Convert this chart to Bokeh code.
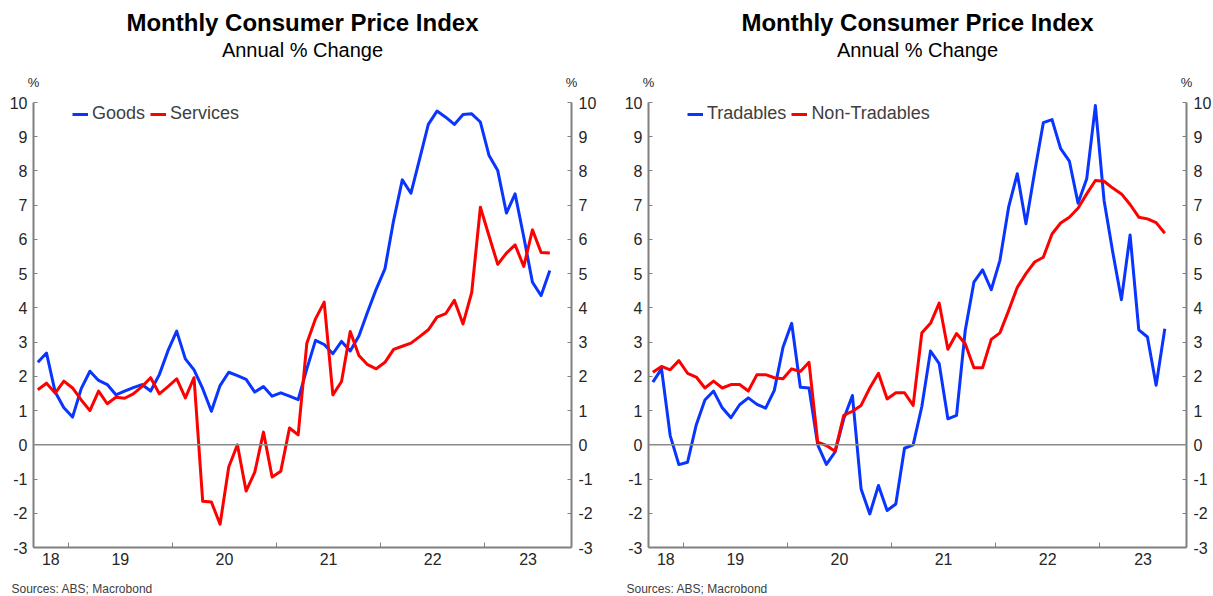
import pandas as pd
from bokeh.plotting import figure
from bokeh.models import LinearAxis, FixedTicker, Span, Title, Legend, LegendItem, Range1d
from bokeh.layouts import row
from bokeh.embed import file_html
from bokeh.resources import INLINE

# ---------------- data ----------------
months = [p.strftime("%Y-%m") for p in pd.period_range("2018-09", "2023-08", freq="M")]

goods = [2.41, 2.68, 1.54, 1.08, 0.81, 1.64, 2.15, 1.88, 1.76, 1.46,
         1.57, 1.67, 1.76, 1.57, 2.05, 2.75, 3.32, 2.51, 2.19, 1.64,
         0.98, 1.73, 2.12, 2.02, 1.91, 1.54, 1.70, 1.42, 1.52, 1.42,
         1.32, 2.22, 3.05, 2.93, 2.66, 3.02, 2.74, 3.18, 3.88, 4.55,
         5.14, 6.55, 7.74, 7.35, 8.35, 9.36, 9.75, 9.57, 9.36, 9.65,
         9.67, 9.43, 8.45, 8.01, 6.77, 7.33, 6.07, 4.75, 4.36, 5.09]

services = [1.61, 1.80, 1.51, 1.86, 1.66, 1.31, 1.00, 1.57, 1.20, 1.39,
            1.36, 1.49, 1.70, 1.96, 1.49, 1.70, 1.93, 1.37, 1.96, -1.65,
            -1.67, -2.32, -0.65, 0.00, -1.35, -0.80, 0.37, -0.94, -0.77, 0.49,
            0.29, 2.97, 3.68, 4.17, 1.46, 1.85, 3.31, 2.61, 2.34, 2.22,
            2.41, 2.79, 2.88, 2.97, 3.16, 3.36, 3.73, 3.83, 4.22, 3.53,
            4.45, 6.94, 6.10, 5.27, 5.60, 5.84, 5.21, 6.28, 5.62, 5.60]

tradables = [1.83, 2.22, 0.27, -0.58, -0.51, 0.58, 1.31, 1.57, 1.08, 0.79,
             1.17, 1.37, 1.18, 1.07, 1.59, 2.85, 3.55, 1.68, 1.66, 0.00,
             -0.57, -0.21, 0.76, 1.44, -1.29, -2.02, -1.19, -1.92, -1.73, -0.10,
             0.00, 1.12, 2.74, 2.37, 0.76, 0.86, 3.34, 4.75, 5.11, 4.53,
             5.39, 6.94, 7.92, 6.46, 7.97, 9.41, 9.50, 8.65, 8.29, 7.06,
             7.77, 9.91, 7.14, 5.63, 4.24, 6.13, 3.36, 3.15, 1.74, 3.39]

non_tradables = [2.12, 2.29, 2.19, 2.46, 2.09, 1.98, 1.66, 1.86, 1.66, 1.76,
                 1.76, 1.57, 2.05, 2.05, 1.96, 1.93, 2.22, 2.14, 2.41, 0.08,
                 -0.02, -0.19, 0.86, 0.98, 1.15, 1.66, 2.09, 1.34, 1.52, 1.52,
                 1.15, 3.27, 3.55, 4.14, 2.79, 3.25, 2.95, 2.25, 2.25, 3.08,
                 3.27, 3.92, 4.60, 5.00, 5.34, 5.48, 6.16, 6.48, 6.65, 6.91,
                 7.33, 7.72, 7.70, 7.50, 7.33, 7.02, 6.65, 6.60, 6.49, 6.18]

years = [2018, 2019, 2020, 2021, 2022, 2023]
year_labels = ["18", "19", "20", "21", "22", "23"]
y_ticks = list(range(-3, 11))

# ---------------- helpers ----------------
FONT = "Liberation Sans"
BLUE = "#0a35ff"
RED = "#ff0000"
AXIS = "#808080"
TXT = "#262626"

BASE = 2018
X_START, X_END = 8, 70  # months since Jan 2018: Sep 2018 .. Nov 2023


def month_pos(m):
    y, mo = int(m[:4]), int(m[5:])
    return (y - BASE) * 12 + (mo - 1) + 0.5


xs = [month_pos(m) for m in months]
year_bounds = [(y - BASE) * 12 for y in years[1:]]
label_pos = []
for y in years:
    a = max(X_START, (y - BASE) * 12)
    b = min(X_END, (y - BASE + 1) * 12)
    label_pos.append(int(round((a + b) / 2)))

FW, FH = 538, 445


def style_y(ax, standoff):
    ax.ticker = FixedTicker(ticks=y_ticks, minor_ticks=[])
    ax.major_label_overrides = {v: str(v) for v in y_ticks}
    ax.major_tick_in = 4
    ax.major_tick_out = 0
    ax.major_tick_line_color = AXIS
    ax.minor_tick_line_color = None
    ax.axis_line_color = AXIS
    ax.axis_line_width = 2
    ax.major_label_text_font = FONT
    ax.major_label_text_font_size = "16px"
    ax.major_label_text_color = TXT
    ax.major_label_standoff = standoff


def make_panel(names, series, colors, left_border, right_border):
    p = figure(frame_width=FW, frame_height=FH, output_backend="svg",
               toolbar_location=None,
               x_range=Range1d(X_START, X_END), y_range=Range1d(-3, 10),
               min_border_left=left_border, min_border_right=right_border,
               min_border_top=102, min_border_bottom=49)
    p.outline_line_color = None
    p.xgrid.visible = False
    p.ygrid.visible = False
    p.background_fill_color = "white"
    p.border_fill_color = "white"

    xa = p.xaxis[0]
    xa.ticker = FixedTicker(ticks=label_pos, minor_ticks=year_bounds)
    xa.major_label_overrides = {pos: lbl for pos, lbl in zip(label_pos, year_labels)}
    xa.major_tick_line_color = None
    xa.major_tick_in = 0
    xa.major_tick_out = 0
    xa.minor_tick_line_color = AXIS
    xa.minor_tick_in = 5
    xa.minor_tick_out = 0
    xa.axis_line_color = AXIS
    xa.axis_line_width = 2
    xa.major_label_text_font = FONT
    xa.major_label_text_font_size = "16px"
    xa.major_label_text_color = TXT
    xa.major_label_standoff = 5

    style_y(p.yaxis[0], 6)
    ra = LinearAxis()
    style_y(ra, 7)
    p.add_layout(ra, "right")

    # "%" unit markers above both value axes
    pa = LinearAxis(ticker=FixedTicker(ticks=[X_START, X_END], minor_ticks=[]),
                    major_label_overrides={X_START: "%", X_END: "%"},
                    axis_line_color=None, major_tick_line_color=None,
                    major_tick_in=0, major_tick_out=0, minor_tick_line_color=None,
                    major_label_standoff=13, major_label_text_font=FONT,
                    major_label_text_font_size="13px", major_label_text_color=TXT)
    p.add_layout(pa, "above")

    p.add_layout(Span(location=0, dimension="width", line_color="#8a8a8a", line_width=1.5))

    items = []
    for name, vals, col in zip(names, series, colors):
        r = p.line(xs, vals, line_color=col, line_width=3, line_join="round")
        items.append(LegendItem(label=name, renderers=[r]))

    leg = Legend(items=items, orientation="horizontal", location=(39, FH - 22),
                 label_text_font=FONT, label_text_font_size="18px",
                 label_text_color="#404040", glyph_width=16, glyph_height=4,
                 label_standoff=4, spacing=5, padding=0, margin=0,
                 label_height=21, border_line_color=None,
                 background_fill_alpha=0)
    p.add_layout(leg)

    p.add_layout(Title(text="Annual % Change", align="center", text_font=FONT,
                       text_font_size="20px", text_font_style="normal",
                       text_color="#000000", standoff=22), "above")
    p.add_layout(Title(text="Monthly Consumer Price Index", align="center",
                       text_font=FONT, text_font_size="24px", text_font_style="bold",
                       text_color="#000000", standoff=-20), "above")
    p.add_layout(Title(text="Sources: ABS; Macrobond", align="left", offset=-22,
                       text_font=FONT, text_font_size="12px", text_font_style="normal",
                       text_color="#404040", standoff=24), "below")
    return p


p1 = make_panel(["Goods", "Services"], [goods, services], [BLUE, RED], 33, 50)
p2 = make_panel(["Tradables", "Non-Tradables"], [tradables, non_tradables], [BLUE, RED], 25, 29)

layout = row(p1, p2)
open("out.html", "w").write(file_html(layout, INLINE))
